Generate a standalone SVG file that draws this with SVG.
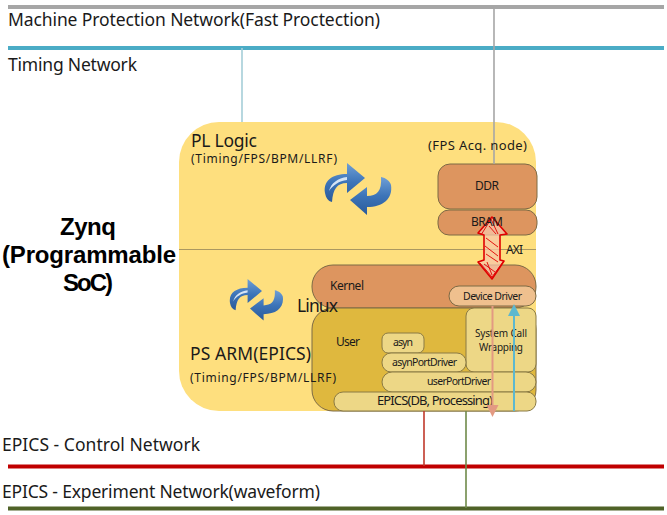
<svg xmlns="http://www.w3.org/2000/svg" width="667" height="515" viewBox="0 0 667 515">
<style>
text{font-family:"Noto Sans",sans-serif;fill:#1a1a1a}
.net{fill:none;stroke-width:4}
.v{fill:none;stroke-width:1.6}
.or{fill:#dd955f;stroke:#7d6a45;stroke-width:1}
.lt{fill:#edd786;stroke:#8a7a45;stroke-width:1}
.s9{font-size:10px}.s10{font-size:10.500px}.s11{font-size:12px}.s12{font-size:13px}.s17{font-size:17.500px}
.z{font-family:"Liberation Sans",sans-serif;font-size:24px;font-weight:700;fill:#000}
</style>
<defs>
<linearGradient id="blue" x1="0" y1="0" x2="0" y2="1"><stop offset="0" stop-color="#6f9fd6"/><stop offset="0.5" stop-color="#3c74b8"/><stop offset="1" stop-color="#2a5a9a"/></linearGradient>
<marker id="mS" viewBox="0 0 8 8" refX="6" refY="4" markerWidth="6" markerHeight="6" orient="auto-start-reverse"><path d="M0 0L8 4L0 8Z" fill="#e39a82"/></marker>
<marker id="mB" viewBox="0 0 8 8" refX="6" refY="4" markerWidth="6" markerHeight="6" orient="auto-start-reverse"><path d="M0 0L8 4L0 8Z" fill="#5db8cf"/></marker>
<g id="cycle">
<path d="M0 30C-2 18 7 11 22 11L22 0L40 15L22 30L22 20C12 20 8 26 7 39C3 38 1 35 0 30Z" fill="url(#blue)"/>
<path d="M4 28C6 20 13 15 22 14L22 17C14 18 8 22 4 28Z" fill="#d5e4f5"/>
<path d="M66 22C68 36 58 44 42 44L42 52L25 37L42 24L42 33C52 33 57 28 56 14C61 15 65 18 66 22Z" fill="url(#blue)"/>
</g>
</defs>

<g id="soc">
<rect x="179" y="122" width="357" height="289" rx="40" ry="40" fill="#fedf7e"/>
<path d="M179 249.500H536" stroke="#ab9860" stroke-width="1.200" fill="none"/>
</g>
<g id="zynq">
<text x="60" y="235" class="z" textLength="56">Zynq</text>
<text x="2" y="263" class="z" textLength="174">(Programmable</text>
<text x="63" y="291" class="z" textLength="50">SoC)</text>
</g>
<use id="cycle-pl" href="#cycle" x="325" y="163"/>
<use id="cycle-ps" href="#cycle" transform="translate(230 279) scale(0.8)"/>

<g id="ddr"><rect class="or" x="438" y="164" width="99" height="45" rx="12"/><text x="475" y="190" class="s11" textLength="24">DDR</text></g>
<g id="bram"><rect class="or" x="438" y="210" width="99" height="25" rx="11"/></g>
<g id="kernel"><rect class="or" x="312" y="265" width="224" height="43" rx="21"/><text x="330" y="290" class="s11" textLength="34">Kernel</text></g>
<g id="user"><rect x="312" y="308" width="224" height="103" rx="21" fill="#dfb83e" stroke="#7d6a45"/><text x="336" y="346" class="s11" textLength="24">User</text></g>
<g id="device-driver"><rect x="449" y="286" width="87" height="20" rx="10" fill="#efc08e" stroke="#7d6a45"/><text x="463" y="299.500" class="s10" textLength="59">Device Driver</text></g>
<g id="syscall"><rect class="lt" x="466" y="308" width="70" height="64" rx="8"/><text x="475" y="337" class="s9" textLength="52">System Call</text><text x="479" y="350.500" class="s9" textLength="44">Wrapping</text></g>
<g id="asyn"><rect class="lt" x="382" y="333" width="42" height="20" rx="6"/><text x="393" y="346" class="s10" textLength="20">asyn</text></g>
<g id="asynPortDriver"><rect class="lt" x="382" y="353" width="84" height="19" rx="9"/><text x="392" y="366" class="s10" textLength="65">asynPortDriver</text></g>
<g id="userPortDriver"><rect class="lt" x="382" y="372" width="154" height="20" rx="10"/><text x="427" y="385" class="s10" textLength="64">userPortDriver</text></g>
<g id="epics"><rect class="lt" x="334" y="392" width="202" height="19" rx="9"/><text x="377" y="405" class="s12" textLength="116">EPICS(DB, Processing)</text></g>

<g id="connectors">
<path class="net" stroke="#a6a6a6" d="M8 7H664"/>
<path class="net" stroke="#4bacc6" d="M8 48H664"/>
<path class="net" stroke="#c00000" d="M8 466.500H664"/>
<path class="net" stroke="#4f6228" d="M8 508.500H664"/>
<path class="v" stroke="#a6a6a6" d="M494 7V164"/>
<path class="v" stroke="#a5ced8" d="M242 48V122"/>
<path class="v" stroke="#c0392b" d="M424 411V466"/>
<path class="v" stroke="#6f8a4a" d="M466 411V508"/>
<path d="M492.500 306V414" stroke="#e39a82" stroke-width="2" fill="none" marker-end="url(#mS)"/>
<path d="M514 411V307" stroke="#5db8cf" stroke-width="2" fill="none" marker-end="url(#mB)"/>
<path d="M492 217L507 234L500 235L500 260L504 261L492 279L478 262L484 260L484 235L478 233Z" fill="#f7c6a8" fill-opacity="0.75" stroke="#e00000" stroke-width="1.600" stroke-linejoin="round"/>
<path d="M481 235L491 219L498 234M486 238L498 247M485 246L498 256M486 254L498 262M480 263L492 277L503 262M484 264L495 272M487 262L492 275M489 226L496 234" fill="none" stroke="#e00000" stroke-width="0.900"/>
</g>

<g id="labels">
<text x="471" y="226" class="s11" textLength="32">BRAM</text>
<text x="8" y="26" class="s17" textLength="372">Machine Protection Network(Fast Proctection)</text>
<text x="8" y="71" class="s17" textLength="129">Timing Network</text>
<text x="2" y="451" class="s17" textLength="198">EPICS - Control Network</text>
<text x="2" y="498" class="s17" textLength="318">EPICS - Experiment Network(waveform)</text>
<text x="506" y="254" class="s11" textLength="17">AXI</text>
<text x="191" y="147" class="s17" textLength="66">PL Logic</text>
<text x="191" y="163" class="s11" textLength="146">(Timing/FPS/BPM/LLRF)</text>
<text x="428" y="150" class="s12" textLength="99">(FPS Acq. node)</text>
<text x="190" y="360" class="s17" textLength="121">PS ARM(EPICS)</text>
<text x="190" y="382" class="s11" textLength="146">(Timing/FPS/BPM/LLRF)</text>
<text x="297" y="312" class="s17" textLength="41">Linux</text>
</g>
</svg>
